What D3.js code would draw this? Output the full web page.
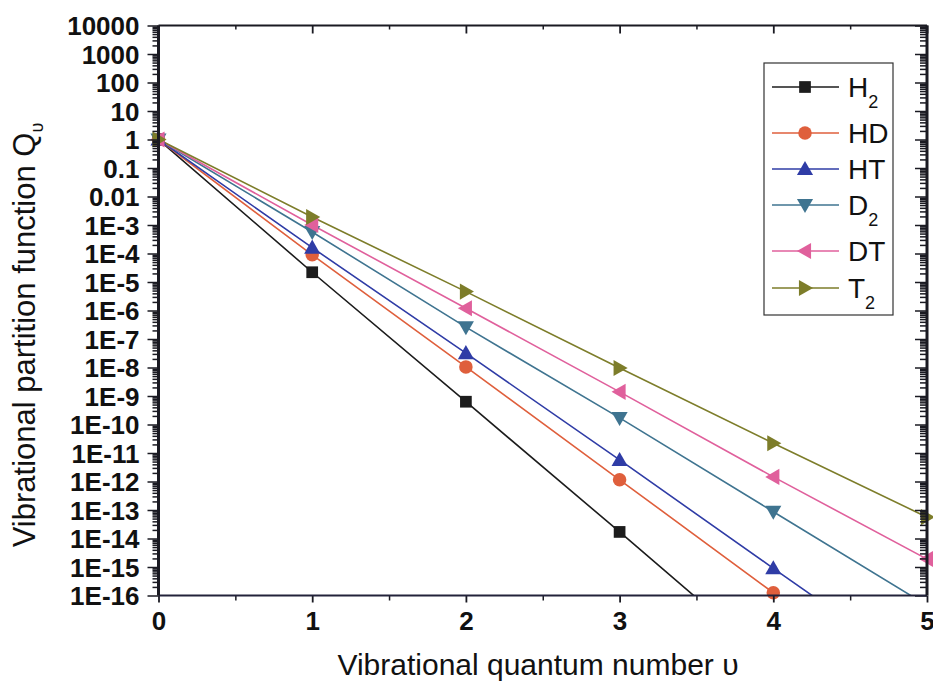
<!DOCTYPE html>
<html>
<head>
<meta charset="utf-8">
<script src="https://cdn.jsdelivr.net/npm/d3@7"></script>
<style>
  body { margin: 0; background: #fff; }
  text { font-family: "Liberation Sans", Arial, sans-serif; }
</style>
</head>
<body>
<div id="chart"></div>
<script>
// vibrational partition function vs quantum number
const levels = [0, 1, 2, 3, 4, 5];
const seriesNames = ["H2", "HD", "HT", "D2", "DT", "T2"];
// values (points below 1E-16 only steer the clipped lines)
const qH2 = [1, 2.2e-5, 6.3e-10, 1.7e-14, 4e-19, 1e-23];
const qHD = [1, 9e-5, 1.05e-8, 1.15e-12, 1.25e-16, 1.4e-20];
const qHT = [1, 1.6e-4, 3.2e-8, 5.7e-12, 9e-16, 1.5e-19];
const qD2 = [1, 5.7e-4, 2.6e-7, 1.7e-10, 8.7e-14, 4.5e-17];
const qDT = [1, 1e-3, 1.2e-6, 1.4e-9, 1.45e-12, 1.9e-15];
const qT2 = [1, 1.9e-3, 4.6e-6, 9.6e-9, 2.2e-11, 5.6e-14];
const yTickLabels = ["10000", "1000", "100", "10", "1", "0.1", "0.01",
  "1E-3", "1E-4", "1E-5", "1E-6", "1E-7", "1E-8", "1E-9", "1E-10",
  "1E-11", "1E-12", "1E-13", "1E-14", "1E-15", "1E-16"];
const xTicks = [0, 1, 2, 3, 4, 5];

const colors = ["#1c1c1c", "#df5f3c", "#2f3ca6", "#3f7490", "#e0609c", "#7d7d2a"];
const shapes = ["square", "circle", "up", "down", "left", "right"];
const allQ = [qH2, qHD, qHT, qD2, qDT, qT2];

const series = seriesNames.map((name, i) => ({
  name, color: colors[i], shape: shapes[i],
  values: levels.map((v, j) => ({ v, q: allQ[i][j] }))
}));

const width = 933, height = 693;
const pLeft = 158.5, pRight = 927, pTop = 25.5, pBottom = 595.5;

const svg = d3.select("#chart").append("svg")
  .attr("width", width).attr("height", height);

const x = d3.scaleLinear().domain([0, 5]).range([pLeft, pRight]);
const y = d3.scaleLog().domain([1e-16, 1e4]).range([pBottom, pTop]);

const majorY = yTickLabels.map(s => +s);
const minorY = [];
majorY.slice(1).forEach(m => { for (let k = 2; k <= 9; k++) minorY.push(m * k); });

svg.append("clipPath").attr("id", "plot")
  .append("rect").attr("x", pLeft).attr("y", pTop)
  .attr("width", pRight - pLeft).attr("height", pBottom - pTop);

// lines
const line = d3.line().x(d => x(d.v)).y(d => y(d.q));
svg.append("g").attr("clip-path", "url(#plot)")
  .selectAll("path").data(series).join("path")
  .attr("d", d => line(d.values))
  .attr("fill", "none")
  .attr("stroke", d => d.color)
  .attr("stroke-width", 1.6);

function marker(g, shape, color, s) {
  if (shape === "square") {
    g.append("rect").attr("x", -s * 0.45).attr("y", -s * 0.45)
      .attr("width", s * 0.9).attr("height", s * 0.9).attr("fill", color);
  } else if (shape === "circle") {
    g.append("circle").attr("r", s * 0.52).attr("fill", color);
  } else {
    const r = s * 0.62;
    const pts = { up: [[0, -r], [r, r * 0.75], [-r, r * 0.75]],
                  down: [[0, r], [r, -r * 0.75], [-r, -r * 0.75]],
                  left: [[-r, 0], [r * 0.75, -r], [r * 0.75, r]],
                  right: [[r, 0], [-r * 0.75, -r], [-r * 0.75, r]] }[shape];
    g.append("path").attr("d", "M" + pts.join("L") + "Z").attr("fill", color);
  }
}

// markers (only inside the y range)
series.forEach(s => {
  s.values.filter(d => d.q >= 1e-16 * 0.999).forEach(d => {
    const g = svg.append("g").attr("transform", `translate(${x(d.v)},${y(d.q)})`);
    marker(g, s.shape, s.color, 13);
  });
});

// axes
const axisColor = "#1a1a22";
const gl = svg.append("g").attr("transform", `translate(${pLeft},0)`);
gl.call(d3.axisLeft(y).tickValues(majorY).tickSize(11).tickFormat((d, i) => yTickLabels[i]))
  .call(g => g.select(".domain").remove());
gl.selectAll(".tick line").attr("stroke", axisColor).attr("stroke-width", 1.5);
gl.selectAll(".tick text").attr("x", -19).attr("dy", "0.36em")
  .style("font-size", "26px").style("font-weight", "bold").attr("fill", "#111");
gl.append("g").call(d3.axisLeft(y).tickValues(minorY).tickSize(6).tickFormat(""))
  .call(g => g.select(".domain").remove())
  .selectAll(".tick line").attr("stroke", axisColor).attr("stroke-width", 1.5);

const gr = svg.append("g").attr("transform", `translate(${pRight},0)`);
gr.append("g").call(d3.axisRight(y).tickValues(majorY).tickSize(-12).tickFormat(""))
  .call(g => g.select(".domain").remove())
  .selectAll(".tick line").attr("stroke", axisColor).attr("stroke-width", 1.5);
gr.append("g").call(d3.axisRight(y).tickValues(minorY).tickSize(-7).tickFormat(""))
  .call(g => g.select(".domain").remove())
  .selectAll(".tick line").attr("stroke", axisColor).attr("stroke-width", 1.5);

const gb = svg.append("g").attr("transform", `translate(0,${pBottom})`);
gb.call(d3.axisBottom(x).tickValues(xTicks).tickSize(7).tickFormat(d3.format("d")))
  .call(g => g.select(".domain").remove());
gb.selectAll(".tick line").attr("stroke", axisColor).attr("stroke-width", 1.8);
gb.selectAll(".tick text").attr("y", 16).attr("dy", "0.71em")
  .style("font-size", "26px").style("font-weight", "bold").attr("fill", "#111");
gb.append("g").call(d3.axisBottom(x).tickValues([0.5, 1.5, 2.5, 3.5, 4.5]).tickSize(5).tickFormat(""))
  .call(g => g.select(".domain").remove())
  .selectAll(".tick line").attr("stroke", axisColor).attr("stroke-width", 1.5);

const gt = svg.append("g").attr("transform", `translate(0,${pTop})`);
gt.call(d3.axisBottom(x).tickValues(xTicks).tickSize(8).tickFormat(""))
  .call(g => g.select(".domain").remove())
  .selectAll(".tick line").attr("stroke", axisColor).attr("stroke-width", 1.8);
gt.append("g").call(d3.axisBottom(x).tickValues([0.5, 1.5, 2.5, 3.5, 4.5]).tickSize(4).tickFormat(""))
  .call(g => g.select(".domain").remove())
  .selectAll(".tick line").attr("stroke", axisColor).attr("stroke-width", 1.5);

// frame
svg.append("line").attr("x1", pLeft).attr("x2", pRight).attr("y1", pBottom).attr("y2", pBottom)
  .attr("stroke", "#22223a").attr("stroke-width", 2);
svg.append("line").attr("x1", pLeft).attr("x2", pRight).attr("y1", pTop).attr("y2", pTop)
  .attr("stroke", axisColor).attr("stroke-width", 2);
svg.append("line").attr("x1", pLeft).attr("x2", pLeft).attr("y1", pTop).attr("y2", pBottom)
  .attr("stroke", axisColor).attr("stroke-width", 3);
svg.append("line").attr("x1", pRight).attr("x2", pRight).attr("y1", pTop).attr("y2", pBottom)
  .attr("stroke", axisColor).attr("stroke-width", 3);

// axis titles
svg.append("text")
  .attr("x", 538).attr("y", 675)
  .attr("text-anchor", "middle")
  .style("font-size", "30px").attr("fill", "#111")
  .text("Vibrational quantum number \u03c5");

const yt = svg.append("text")
  .attr("transform", "translate(35,335) rotate(-90)")
  .attr("text-anchor", "middle")
  .style("font-size", "31px").attr("fill", "#111");
yt.append("tspan").text("Vibrational partition function Q");
yt.append("tspan").attr("dy", 8).style("font-size", "18px").text("\u03c5");

// legend
const legend = svg.append("g");
legend.append("rect").attr("x", 764).attr("y", 63).attr("width", 129).attr("height", 252)
  .attr("fill", "#fff").attr("stroke", "#333").attr("stroke-width", 1.2);
const rowY = [87, 133, 169, 205, 251, 288];
series.forEach((s, i) => {
  const g = legend.append("g").attr("transform", `translate(0,${rowY[i]})`);
  g.append("line").attr("x1", 772).attr("x2", 839).attr("stroke", s.color).attr("stroke-width", 1.6);
  const m = g.append("g").attr("transform", "translate(805,0)");
  marker(m, s.shape, s.color, 13);
  const t = g.append("text").attr("x", 848).attr("y", 10)
    .style("font-size", "28px").attr("fill", "#111");
  const base = s.name.replace("2", "");
  t.append("tspan").text(base);
  if (s.name.endsWith("2")) {
    t.append("tspan").attr("dy", 11).style("font-size", "18px").text("2");
  }
});
</script>
</body>
</html>
